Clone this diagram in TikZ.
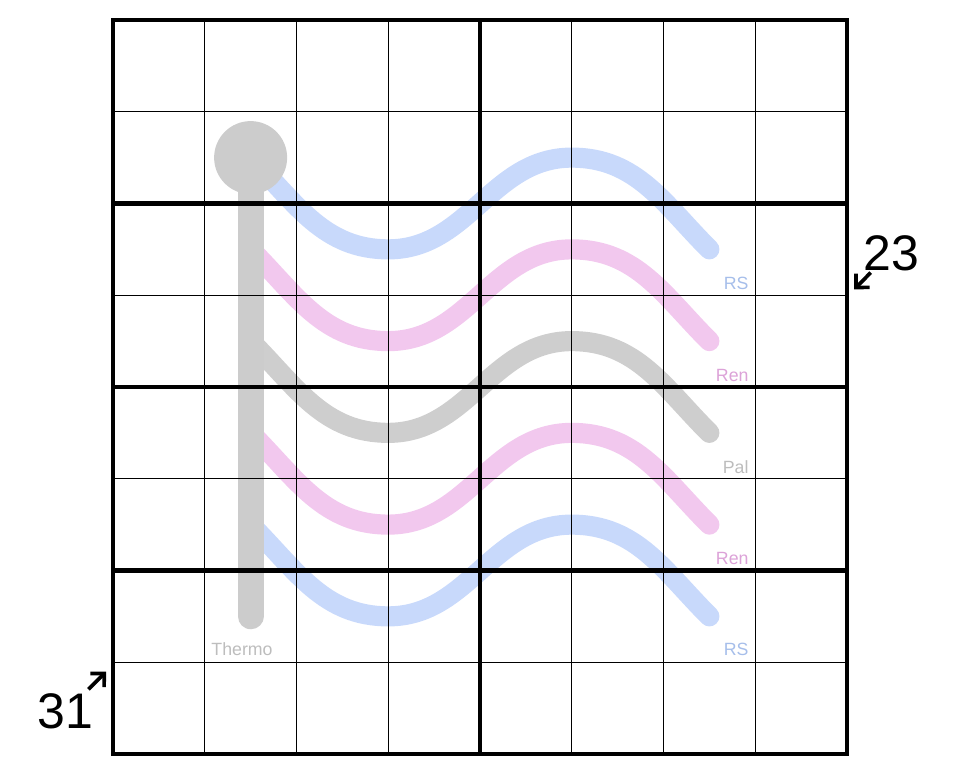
\documentclass[tikz,border=0pt]{standalone}
\usepackage{fontspec}
\setmainfont{Liberation Sans}
\usepackage{xcolor}
\usepackage{tikz}
\usetikzlibrary{arrows.meta}

\definecolor{rsblue}{HTML}{C8D9FB}
\definecolor{renpink}{HTML}{F2C8EE}
\definecolor{palgray}{HTML}{CECECE}
\definecolor{thermogray}{HTML}{CCCCCC}
\definecolor{rslabel}{HTML}{A6BEEA}
\definecolor{renlabel}{HTML}{DCA2D8}
\definecolor{pallabel}{HTML}{BDBDBD}

\begin{document}
\begin{tikzpicture}[
      x=2cm, y=2cm,
      >={Straight Barb[length=6pt,width=12pt]},
      thin line/.style={line width=0.9pt},
      box line/.style={line width=2.6pt},
      wave/.style={line width=12.5pt, line cap=round},
      thermo/.style={draw=thermogray, line width=16pt, line cap=round},
      clue/.style={font=\fontsize{31}{31}\selectfont, inner sep=0pt, anchor=base},
      tag/.style={font=\fontsize{11}{11}\selectfont, inner sep=0pt, anchor=base east},
      clue arrow/.style={->, line width=2.3pt},
    ]
    \useasboundingbox (-1.2316,-0.2616) rectangle (9.2316,8.218);

    % renban / palindrome / region-sum lines
    \foreach \y/\col in {6.5/rsblue, 5.5/renpink, 4.5/palgray, 3.5/renpink, 2.5/rsblue}
      \draw[wave, draw=\col] (1.5,\y) to[out=-45,in=180] (3,\y-1)
        to[out=0,in=180] (5,\y) to[out=0,in=135] (6.5,\y-1);

    % thermometer
    \draw[thermo] (1.5,6.5) -- (1.5,1.5);
    \fill[thermogray] (1.5,6.5) circle (0.398);

    % grid
    \foreach \i in {1,...,7} {
      \draw[thin line] (\i,0) -- (\i,8);
      \draw[thin line] (0,\i) -- (8,\i);
    }
    \draw[box line] (4,0) -- (4,8);
    \foreach \i in {2,4,6} \draw[box line] (0,\i) -- (8,\i);
    \draw[box line] (0,0) rectangle (8,8);

    % line labels
    \node[tag, text=rslabel]  (rstop)   at (6.93,5.06) {RS};
    \node[tag, text=renlabel] (rentop)  at (6.93,4.06) {Ren};
    \node[tag, text=pallabel] (pal)     at (6.93,3.06) {Pal};
    \node[tag, text=renlabel] (renbot)  at (6.93,2.06) {Ren};
    \node[tag, text=rslabel]  (rsbot)   at (6.93,1.07) {RS};
    \node[tag, text=pallabel, anchor=base] (thermolabel) at (1.406,1.07) {Thermo};

    % little killer clues
    \node[clue] (sumright) at (8.485,5.275) {23};
    \coordinate (tailright) at (8.259,5.247);
    \coordinate (tipright) at (8.078,5.065);
    \draw[clue arrow] (tailright) -- (tipright);

    \node[clue] (sumleft) at (-0.518,0.283) {31};
    \coordinate (tailleft) at (-0.269,0.705);
    \coordinate (tipleft) at (-0.076,0.897);
    \draw[clue arrow] (tailleft) -- (tipleft);

  \end{tikzpicture}
\end{document}
